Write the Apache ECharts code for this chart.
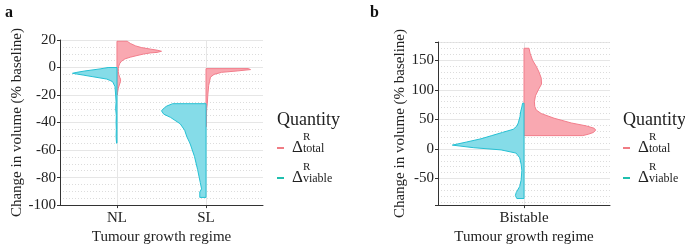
<!DOCTYPE html>
<html>
<head>
<meta charset="utf-8">
<style>
  html, body { margin: 0; padding: 0; background: #fff; }
  #chart { width: 685px; height: 250px; }
</style>
<script src="https://cdn.jsdelivr.net/npm/echarts@6.0.0/dist/echarts.min.js"></script>
</head>
<body>
<div id="chart"></div>
<script>
// categories
var regimesA = ['NL', 'SL'];
var regimesB = ['Bistable'];
var quantities = ['total', 'viable'];

// half-violin outlines: y values (top -> bottom) and relative widths (1 = widest)
var nlTotalY = [19.1, 17.5, 15.7, 14.5, 13.4, 12.5, 11.8, 11.0, 10.6, 9.8, 8.7, 7.5, 6.3, 4.5, 2.8, 1, -0.8, -3, -5, -7, -8.5, -10.2, -12, -15, -18, -20];
var nlTotalW = [0.23, 0.3, 0.42, 0.55, 0.75, 0.92, 1.0, 0.9, 0.75, 0.6, 0.45, 0.3, 0.18, 0.1, 0.06, 0.04, 0.03, 0.03, 0.04, 0.06, 0.08, 0.08, 0.06, 0.03, 0.015, 0.01];
var nlViableY = [0, -1, -2.5, -3.5, -4.2, -5.5, -6.7, -8.4, -10.2, -13.8, -20, -25, -30, -35, -40, -45, -50, -55];
var nlViableW = [0.2, 0.38, 0.72, 0.9, 1.0, 0.76, 0.54, 0.23, 0.1, 0.045, 0.03, 0.02, 0.03, 0.015, 0.02, 0.015, 0.02, 0.01];
var slTotalY = [-0.8, -1.5, -2.5, -3.5, -5, -7, -10, -13, -20, -26, -30, -35, -43];
var slTotalW = [0.95, 1.0, 0.7, 0.35, 0.18, 0.1, 0.08, 0.06, 0.04, 0.03, 0.015, 0.01, 0.01];
var slViableY = [-26.3, -28, -29.1, -31.5, -33.9, -36.2, -40.9, -45.6, -50.4, -55.1, -64.6, -74, -83.5, -88.2, -90.5, -94.4];
var slViableW = [0.75, 0.88, 0.93, 1.0, 0.95, 0.8, 0.58, 0.48, 0.43, 0.36, 0.26, 0.19, 0.13, 0.1, 0.14, 0.14];
var biTotalY = [170.4, 162, 150, 140, 130, 120, 110, 100, 90, 80, 72, 66, 60, 52, 44, 39, 35, 32, 28, 25, 22.6];
var biTotalW = [0.07, 0.085, 0.12, 0.17, 0.21, 0.24, 0.245, 0.2, 0.16, 0.145, 0.15, 0.17, 0.24, 0.42, 0.66, 0.87, 0.98, 1.0, 0.97, 0.9, 0.82];
var biViableY = [77.4, 71, 62.9, 54.8, 44, 38.7, 33.3, 28, 22.6, 17.2, 11.8, 6.5, 2.1, -1.6, -7, -15, -25.8, -36.6, -52.7, -63.4, -74, -79, -83.9];
var biViableW = [0.02, 0.03, 0.047, 0.056, 0.08, 0.1, 0.15, 0.3, 0.45, 0.6, 0.8, 1.0, 0.7, 0.32, 0.11, 0.06, 0.04, 0.03, 0.04, 0.06, 0.11, 0.12, 0.1];

var FONT = 'Liberation Serif';
var TXT = '#222';
var pinkFill = '#F9A8B1', pinkLine = '#F27D8B';
var cyanFill = '#85DCE8', cyanLine = '#26C0D3';
var halfWidth = 0.5;

var chart = echarts.init(document.getElementById('chart'));

function violin(name, axis, shapes, side, fill, stroke) {
    return {
        type: 'custom',
        name: name,
        xAxisIndex: axis,
        yAxisIndex: axis,
        itemStyle: { color: fill },
        data: shapes.map(function (s) { return [s.pos, s.ys[0]]; }),
        renderItem: function (params, api) {
            var s = shapes[params.dataIndex];
            var pts = [api.coord([s.pos, s.ys[0]])];
            for (var i = 0; i < s.ys.length; i++) {
                pts.push(api.coord([s.pos + side * halfWidth * s.ws[i], s.ys[i]]));
            }
            pts.push(api.coord([s.pos, s.ys[s.ys.length - 1]]));
            return {
                type: 'polygon',
                shape: { points: pts },
                style: { fill: fill, stroke: stroke, lineWidth: 1 }
            };
        }
    };
}

function yAxis(grid, min, max, step, minor, name, gap, interval) {
    var ax = {
        type: 'value', gridIndex: grid, min: min, max: max,
        name: name, nameLocation: 'middle', nameGap: gap,
        nameTextStyle: { fontFamily: FONT, fontSize: 15, color: TXT },
        axisLine: { show: true, lineStyle: { color: '#333' } },
        axisTick: { show: true, length: 3, lineStyle: { color: '#333' } },
        axisLabel: {
            fontFamily: FONT, fontSize: 15, color: TXT, margin: 4,
            formatter: function (v) { return (Math.abs(v % step) < 1e-6) ? String(v) : ''; }
        },
        splitLine: { show: true, lineStyle: { color: '#e6e6e6', width: 1 } },
        minorTick: { show: false, splitNumber: minor },
        minorSplitLine: { show: true, lineStyle: { color: '#dcdcdc', type: [1, 2], width: 1 } }
    };
    if (interval) ax.interval = interval;
    return ax;
}

function xAxis(grid, min, max, names) {
    var vals = names.map(function (n, i) { return i + 1; });
    return {
        type: 'value', gridIndex: grid, min: min, max: max,
        name: 'Tumour growth regime', nameLocation: 'middle', nameGap: 21,
        nameTextStyle: { fontFamily: FONT, fontSize: 15, color: TXT },
        axisLine: { show: true, onZero: false, lineStyle: { color: '#333' } },
        axisTick: { show: true, length: 3, customValues: vals, lineStyle: { color: '#333' } },
        axisLabel: {
            fontFamily: FONT, fontSize: 15, color: TXT, margin: 5,
            customValues: vals,
            formatter: function (v) { return names[Math.round(v) - 1] || ''; }
        },
        splitLine: { show: true, lineStyle: { color: '#e6e6e6' } }
    };
}

var legendRich = {
    lead: { width: 3, lineHeight: 14 },
    pad: { width: 14, lineHeight: 8 },
    sup: { fontFamily: FONT, fontSize: 11, color: TXT, lineHeight: 8 },
    d: { fontFamily: FONT, fontSize: 17, color: TXT, lineHeight: 14 },
    sub: { fontFamily: FONT, fontSize: 12, color: TXT, lineHeight: 8, verticalAlign: 'bottom' },
    gap: { lineHeight: 8, fontSize: 8 }
};

function legend(left) {
    return {
        orient: 'vertical', left: left, top: 126,
        itemWidth: 7, itemHeight: 2, itemGap: -2,
        icon: 'rect',
        selectedMode: false,
        data: [
            { name: quantities[0], itemStyle: { color: '#F07C84' } },
            { name: quantities[1], itemStyle: { color: '#1FBFAE' } }
        ],
        formatter: function (n) {
            return '{pad|}{sup|R}\n{lead| }{d|\u0394}{sub|' + n + '}\n{gap| }';
        },
        textStyle: { rich: legendRich }
    };
}

chart.setOption({
    animation: false,
    textStyle: { fontFamily: FONT },
    title: [
        { text: 'a', left: 0, top: 0, textStyle: { fontFamily: FONT, fontSize: 16, fontWeight: 'bold', color: '#111' } },
        { text: 'b', left: 365, top: 0, textStyle: { fontFamily: FONT, fontSize: 16, fontWeight: 'bold', color: '#111' } },
        { text: 'Quantity', left: 272, top: 106, textStyle: { fontFamily: FONT, fontSize: 18, fontWeight: 'normal', color: TXT } },
        { text: 'Quantity', left: 618, top: 106, textStyle: { fontFamily: FONT, fontSize: 18, fontWeight: 'normal', color: TXT } }
    ],
    legend: [legend(272), legend(618)],
    grid: [
        { left: 60, top: 40, width: 203, height: 170 },
        { left: 438, top: 42, width: 172, height: 171 }
    ],
    xAxis: [
        xAxis(0, 0.36, 2.64, regimesA),
        xAxis(1, 0.4, 1.6, regimesB)
    ],
    yAxis: [
        yAxis(0, -100, 20, 20, 4, 'Change in volume (% baseline)', 33, 20),
        yAxis(1, -95, 181, 50, 5, 'Change in volume (% baseline)', 29, null)
    ],
    series: [
        violin(quantities[0], 0, [
            { pos: 1, ys: nlTotalY, ws: nlTotalW },
            { pos: 2, ys: slTotalY, ws: slTotalW }
        ], 1, pinkFill, pinkLine),
        violin(quantities[1], 0, [
            { pos: 1, ys: nlViableY, ws: nlViableW },
            { pos: 2, ys: slViableY, ws: slViableW }
        ], -1, cyanFill, cyanLine),
        violin(quantities[0], 1, [
            { pos: 1, ys: biTotalY, ws: biTotalW }
        ], 1, pinkFill, pinkLine),
        violin(quantities[1], 1, [
            { pos: 1, ys: biViableY, ws: biViableW }
        ], -1, cyanFill, cyanLine)
    ]
});
</script>
</body>
</html>
